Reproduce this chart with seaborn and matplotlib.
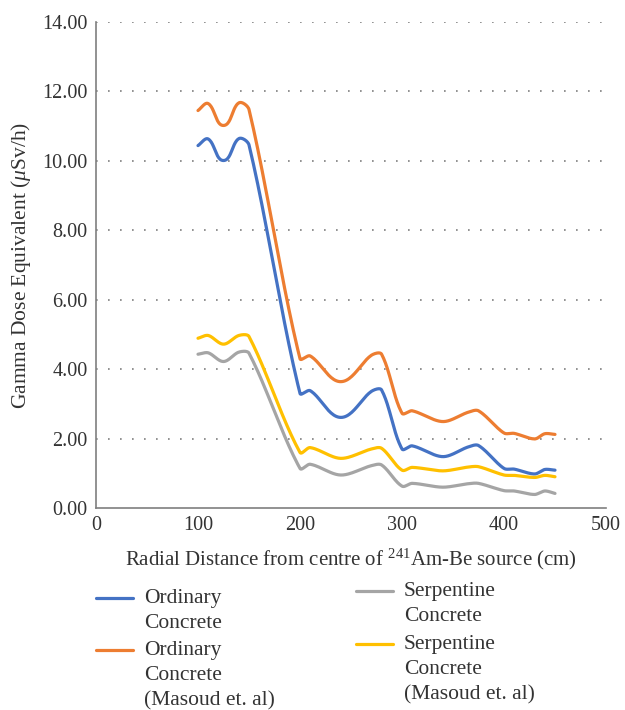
import numpy as np
import pandas as pd
import matplotlib
matplotlib.use('Agg')
import matplotlib.pyplot as plt
from matplotlib.lines import Line2D
import seaborn as sns

# radial distance (cm) and measured gamma dose equivalent (uSv/h)
distance = [100, 110, 125, 140, 150, 200, 210, 240, 270, 280,
            300, 310, 340, 365, 375, 400, 410, 430, 440, 450]
ordinary = [10.44, 10.63, 10.01, 10.64, 10.46, 3.30, 3.38, 2.61, 3.36, 3.40,
            1.70, 1.79, 1.48, 1.76, 1.80, 1.14, 1.12, 0.98, 1.11, 1.09]
ordinary_masoud = [11.45, 11.65, 11.02, 11.67, 11.48, 4.30, 4.38, 3.64, 4.40, 4.43,
                   2.73, 2.80, 2.49, 2.76, 2.80, 2.16, 2.15, 1.99, 2.14, 2.12]
serpentine = [4.43, 4.47, 4.22, 4.49, 4.46, 1.14, 1.26, 0.95, 1.22, 1.24,
              0.63, 0.71, 0.60, 0.70, 0.71, 0.50, 0.49, 0.39, 0.49, 0.42]
serpentine_masoud = [4.89, 4.97, 4.72, 4.97, 4.94, 1.60, 1.74, 1.43, 1.70, 1.72,
                     1.09, 1.17, 1.07, 1.18, 1.19, 0.95, 0.94, 0.88, 0.94, 0.90]

series_names = ['Ordinary\nConcrete', 'Ordinary\nConcrete\n(Masoud et. al)',
                'Serpentine\nConcrete', 'Serpentine\nConcrete\n(Masoud et. al)']
series_values = [ordinary, ordinary_masoud, serpentine, serpentine_masoud]
colors = ['#4472C4', '#ED7D31', '#A5A5A5', '#FFC000']


def smooth(xs, ys, n=24, k=0.3, kx=1.02, ky=34.7):
    # excel-like smoothed line: bezier segments, handles along the
    # neighbour direction, length tied to each segment (pixel space)
    p = np.column_stack([np.asarray(xs) * kx, np.asarray(ys) * ky]).astype(float)
    m = len(p)
    tang = np.zeros_like(p)
    for i in range(m):
        d = p[min(i + 1, m - 1)] - p[max(i - 1, 0)]
        tang[i] = d / np.linalg.norm(d)
    t = np.linspace(0, 1, n, endpoint=False)[:, None]
    out = []
    for i in range(m - 1):
        L = np.linalg.norm(p[i + 1] - p[i])
        c0 = p[i]
        c1 = p[i] + tang[i] * L * k
        c2 = p[i + 1] - tang[i + 1] * L * k
        c3 = p[i + 1]
        out.append((1 - t) ** 3 * c0 + 3 * (1 - t) ** 2 * t * c1 + 3 * (1 - t) * t ** 2 * c2 + t ** 3 * c3)
    out.append(p[-1][None, :])
    out = np.vstack(out)
    return out[:, 0] / kx, out[:, 1] / ky


frames = []
for name, vals in zip(series_names, series_values):
    sx, sy = smooth(distance, vals)
    frames.append(pd.DataFrame({'x': sx, 'y': sy, 'series': name}))
df = pd.concat(frames, ignore_index=True)

sns.set_style('white')
plt.rcParams['font.family'] = ['Liberation Serif', 'DejaVu Serif']
plt.rcParams['mathtext.fontset'] = 'custom'
plt.rcParams['mathtext.rm'] = 'Liberation Serif'
plt.rcParams['mathtext.it'] = 'Liberation Serif:italic'

fig = plt.figure(figsize=(6.25, 7.1), dpi=100)
ax = fig.add_axes([0.1536, 0.2845, 0.816, 0.6845])

sns.lineplot(data=df, x='x', y='y', hue='series', palette=colors, sort=False,
             estimator=None, units='series', lw=2.3, legend=False, ax=ax)

ax.set_xlim(0, 500)
ax.set_ylim(0, 14)
ax.set_xticks(range(0, 501, 100))
ax.set_yticks(np.arange(0, 14.1, 2))
ax.set_yticklabels([f'{v:.2f}' for v in np.arange(0, 14.1, 2)])
ax.tick_params(length=0, labelsize=14.5, colors='#333333', pad=6)
for v in np.arange(2, 14.1, 2):
    ax.axhline(v, color='#7f7f7f', lw=1.2, ls=(0, (1, 6.2)), zorder=0)
for s in ['top', 'right']:
    ax.spines[s].set_visible(False)
for s in ['left', 'bottom']:
    ax.spines[s].set_color('#7f7f7f')
    ax.spines[s].set_linewidth(1.2)

ax.set_xlabel(r'Radial Distance from centre of $^{\mathrm{241}}$Am-Be source (cm)',
              fontsize=15, color='#333333', labelpad=8)
ax.set_ylabel(r'Gamma Dose Equivalent ($\mu$Sv/h)', fontsize=15.5, color='#333333', labelpad=7)

# legend, two columns like the original (y = baseline of first line)
W, H = 625, 710
legend_pos = [(96, 605), (96, 657), (356, 598), (356, 651)]
for name, c, (px, py) in zip(series_names, colors, legend_pos):
    fig.add_artist(Line2D([px / W, (px + 37) / W], [1 - (py - 7) / H, 1 - (py - 7) / H],
                          color=c, lw=2.3))
    fig.text((px + 48) / W, 1 - (py - 16) / H, name, fontsize=15.5, color='#333333',
             va='top', ha='left', linespacing=1.42)

plt.savefig('out.png', dpi=100)
